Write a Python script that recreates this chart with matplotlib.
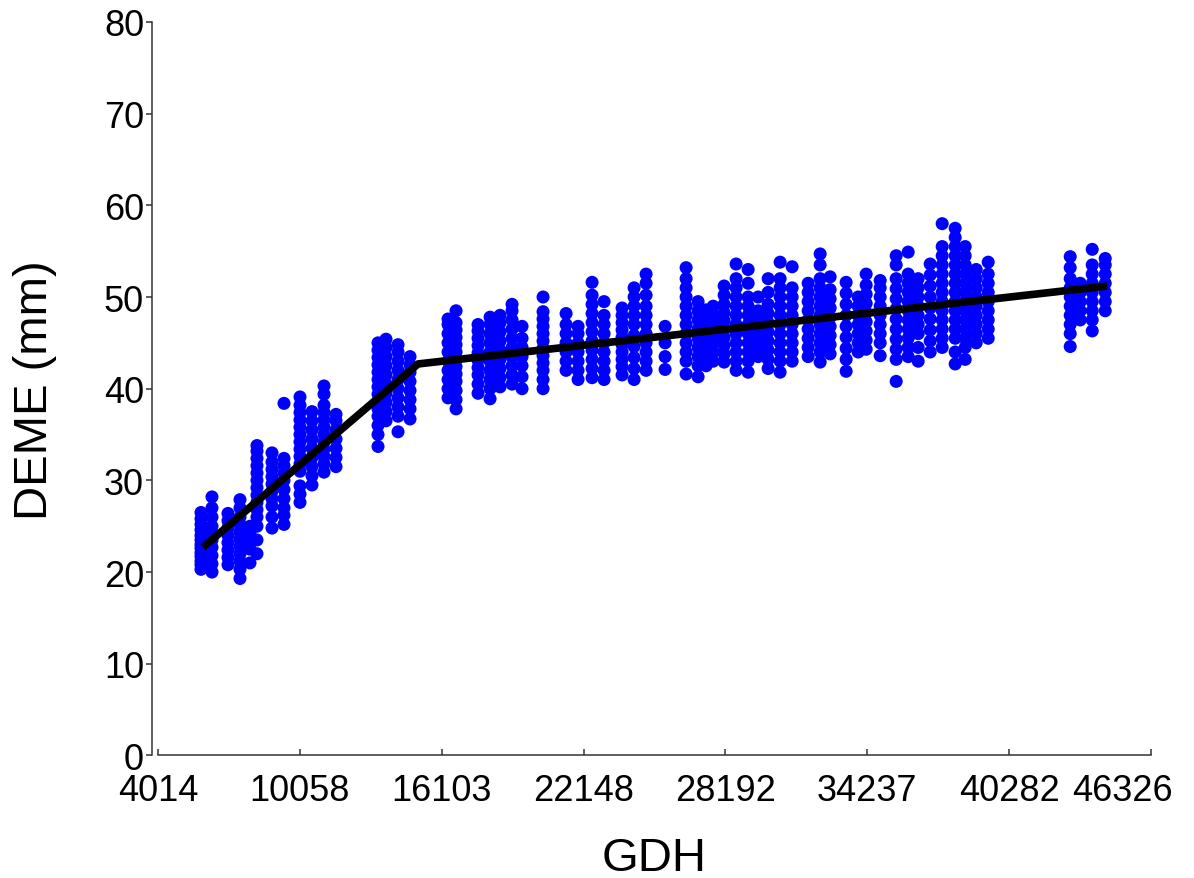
import matplotlib
matplotlib.use("Agg")
import matplotlib.pyplot as plt
from matplotlib.transforms import ScaledTranslation

plt.rcParams['font.family'] = ['Liberation Sans', 'DejaVu Sans']

# GDH position of each column of observations
gdh_cols = [5847, 6316, 6997, 7509, 7935, 8233, 8873, 9384, 10066, 10577,
            11089, 11600, 13390, 13731, 14243, 14754,
            16374, 16715, 17652, 18164, 18590, 19101, 19527, 20422, 21403, 21914,
            22511, 23022, 23789, 24301, 24812, 25622,
            26517, 27028, 27369, 27668, 28137, 28648, 29160, 29586, 30012, 30523,
            31035, 31717, 32228, 32654, 33336, 33848, 34189, 34786, 35468, 35979,
            36405, 36917, 37428, 37982, 38408, 38877, 39389,
            42883, 43310, 43821, 44375]

# DEME (mm) observations in each column
deme_cols = [
    [20.3, 20.8, 21.2, 21.7, 22.1, 22.6, 23.0, 23.5, 24.0, 24.6, 25.2, 25.8, 26.5],
    [20.0, 20.9, 21.8, 22.7, 23.5, 24.3, 25.0, 26.0, 27.0, 28.2],
    [20.8, 21.6, 22.4, 23.2, 24.0, 24.8, 25.6, 26.4],
    [19.3, 20.3, 21.2, 22.0, 22.8, 23.6, 24.4, 25.2, 26.0, 27.0, 27.9],
    [21.0, 22.5, 23.4, 24.2, 25.0],
    [22.0, 23.5, 25.0, 26.0, 26.8, 27.6, 28.4, 29.2, 30.0, 30.8, 31.6, 32.4, 33.2, 33.8],
    [24.8, 26.0, 27.2, 28.0, 28.8, 29.6, 30.4, 31.2, 32.0, 33.0],
    [25.2, 26.2, 27.0, 28.0, 29.0, 30.0, 30.8, 31.6, 32.4, 38.4],
    [27.6, 28.5, 29.4, 31.0, 31.8, 32.6, 33.4, 34.2, 35.0, 35.8, 36.6, 37.4, 38.2, 39.1],
    [29.5, 30.5, 31.5, 32.5, 33.5, 34.5, 35.5, 36.5, 37.5],
    [30.9, 31.8, 32.6, 33.4, 34.2, 35.0, 35.8, 36.6, 37.4, 38.2, 39.4, 40.3],
    [31.5, 32.5, 33.5, 34.5, 35.5, 36.5, 37.2],
    [33.7, 35.0, 36.0, 37.0, 37.8, 38.6, 39.4, 40.2, 41.0, 41.8, 42.6, 43.4, 44.2, 45.0],
    [36.5, 37.5, 38.5, 39.5, 40.5, 41.5, 42.5, 43.5, 44.5, 45.4],
    [35.3, 37.0, 38.0, 39.0, 40.0, 41.0, 42.0, 43.0, 44.0, 44.8],
    [36.7, 37.8, 38.8, 39.8, 40.8, 41.8, 42.6, 43.5],
    [39.0, 40.0, 41.0, 42.0, 43.0, 44.0, 45.0, 46.0, 47.0, 47.6],
    [37.8, 38.8, 39.8, 40.8, 41.6, 42.4, 43.2, 44.0, 44.8, 45.6, 46.4, 47.2, 48.5],
    [39.5, 40.5, 41.5, 42.3, 43.1, 43.9, 44.7, 45.5, 46.3, 47.0],
    [38.9, 40.0, 41.0, 42.0, 43.0, 44.0, 45.0, 46.0, 47.0, 47.8],
    [40.2, 41.2, 42.2, 43.2, 44.2, 45.2, 46.2, 47.2, 48.0],
    [40.5, 41.5, 42.5, 43.5, 44.5, 45.5, 46.5, 47.5, 48.5, 49.2],
    [40.0, 41.3, 42.5, 43.5, 44.5, 45.5, 46.8],
    [40.0, 41.0, 42.0, 42.8, 43.6, 44.4, 45.2, 46.0, 46.8, 47.6, 48.4, 50.0],
    [42.0, 43.0, 44.0, 45.0, 46.0, 47.0, 48.2],
    [41.0, 42.0, 43.0, 44.0, 45.0, 46.0, 46.8],
    [41.2, 42.2, 43.2, 44.2, 45.2, 46.2, 47.2, 48.2, 49.2, 50.2, 51.6],
    [41.0, 42.0, 43.0, 44.0, 45.0, 46.0, 47.0, 48.0, 49.5],
    [41.5, 42.4, 43.2, 44.0, 44.8, 45.6, 46.4, 47.2, 48.0, 48.8],
    [41.0, 42.2, 43.4, 44.6, 45.8, 47.0, 48.0, 49.0, 50.0, 51.0],
    [42.0, 43.0, 44.0, 45.0, 46.0, 47.0, 48.0, 49.0, 50.2, 51.5, 52.5],
    [42.1, 43.5, 45.0, 46.8],
    [41.6, 43.0, 44.0, 45.0, 46.0, 47.0, 48.0, 49.0, 50.0, 51.0, 52.0, 53.2],
    [41.3, 42.5, 43.5, 44.5, 45.5, 46.5, 47.5, 48.5, 49.5],
    [42.5, 43.5, 44.5, 45.5, 46.5, 47.5, 48.6],
    [43.0, 44.0, 45.0, 46.0, 47.0, 48.0, 49.0],
    [42.9, 43.8, 44.7, 45.6, 46.5, 47.4, 48.3, 49.2, 50.2, 51.2],
    [42.0, 43.0, 44.0, 45.0, 46.0, 47.0, 48.0, 49.0, 50.0, 51.0, 52.0, 53.6],
    [41.8, 43.0, 44.0, 45.0, 46.0, 47.0, 48.0, 49.0, 50.0, 51.5, 53.0],
    [43.5, 44.5, 45.5, 46.5, 47.5, 48.5, 50.0],
    [42.2, 43.2, 44.2, 45.2, 46.2, 47.2, 48.2, 49.2, 50.5, 52.0],
    [41.8, 43.0, 44.0, 45.0, 46.0, 47.0, 48.0, 49.0, 50.0, 51.0, 52.0, 53.8],
    [43.0, 44.0, 45.0, 46.0, 47.0, 48.0, 49.0, 50.0, 51.0, 53.3],
    [43.5, 44.5, 45.5, 46.5, 47.5, 48.5, 49.5, 50.5, 51.5],
    [42.9, 44.0, 45.0, 46.0, 47.0, 48.0, 49.0, 50.0, 51.0, 52.0, 53.5, 54.7],
    [43.8, 44.8, 45.8, 46.8, 47.8, 48.8, 49.8, 50.8, 52.2],
    [41.9, 43.2, 44.4, 45.6, 46.8, 48.0, 49.2, 50.4, 51.6],
    [44.0, 45.0, 46.0, 47.0, 48.0, 49.0, 50.0],
    [44.3, 45.3, 46.3, 47.3, 48.3, 49.3, 50.3, 51.3, 52.5],
    [43.6, 45.0, 46.0, 47.0, 48.0, 49.0, 50.0, 51.0, 51.8],
    [40.8, 43.2, 44.3, 45.4, 46.5, 47.6, 48.7, 49.8, 50.9, 52.0, 53.5, 54.5],
    [43.5, 44.5, 45.5, 46.5, 47.5, 48.5, 49.5, 50.5, 51.5, 52.5, 54.9],
    [43.0, 44.5, 46.0, 47.0, 48.0, 49.0, 50.0, 51.0, 52.0],
    [44.0, 45.2, 46.4, 47.6, 48.8, 50.0, 51.2, 52.4, 53.6],
    [44.5, 45.5, 46.5, 47.5, 48.5, 49.5, 50.5, 51.5, 52.5, 53.5, 54.5, 55.5, 58.0],
    [42.7, 44.0, 45.5, 46.5, 47.5, 48.5, 49.5, 50.5, 51.5, 52.5, 53.5, 54.5, 55.5, 56.5, 57.5],
    [43.2, 44.5, 45.5, 46.5, 47.5, 48.5, 49.5, 50.5, 51.5, 52.5, 53.5, 54.5, 55.5],
    [45.0, 46.0, 47.0, 48.0, 49.0, 50.0, 51.0, 52.0, 53.0],
    [45.5, 46.5, 47.5, 48.5, 49.5, 50.5, 51.5, 52.5, 53.8],
    [44.6, 46.0, 47.0, 48.0, 49.0, 50.0, 51.0, 52.0, 53.2, 54.4],
    [47.5, 48.5, 49.5, 50.5, 51.5],
    [46.3, 47.5, 48.5, 49.5, 50.5, 51.5, 52.5, 53.5, 55.2],
    [48.5, 49.5, 50.5, 51.5, 52.5, 53.5, 54.2],
]

# piecewise linear fit
fit_gdh = [5932, 15095, 44460]
fit_deme = [22.7, 42.7, 51.2]

x_ticks = [4014, 10058, 16103, 22148, 28192, 34237, 40282, 46326]
x_ticklabels = ["4014", "10058", "16103", "22148", "28192", "34237", "40282", "46326"]
y_ticks = [0, 10, 20, 30, 40, 50, 60, 70, 80]

xs, ys = [], []
for g, col in zip(gdh_cols, deme_cols):
    for v in col:
        xs.append(g)
        ys.append(v)

fig = plt.figure(figsize=(11.94, 8.79), dpi=100)
ax = fig.add_axes([0.1323, 0.1394, 0.8317, 0.8345])

ax.scatter(xs, ys, s=88, color="#0000FF", edgecolors="none", zorder=2)
ax.plot(fit_gdh, fit_deme, color="black", lw=5.5, solid_capstyle="butt", zorder=3)

ax.set_xlim(4014, 46326)
ax.set_ylim(0, 80)
ax.set_xticks(x_ticks)
ax.set_xticklabels(x_ticklabels)
ax.set_yticks(y_ticks)

for s in ["top", "right"]:
    ax.spines[s].set_visible(False)
ax.spines["left"].set_position(("outward", 4))
for s in ["left", "bottom"]:
    ax.spines[s].set_color("#333333")
    ax.spines[s].set_linewidth(1.1)

ax.tick_params(axis="y", direction="out", length=4.5, width=1.1, color="#333333",
               labelsize=26, pad=1.5)
ax.tick_params(axis="x", direction="in", length=4.5, width=1.1, color="#333333",
               labelsize=26, pad=12.5)

# last x tick label is nudged left so it stays inside the figure
last = ax.get_xticklabels()[-1]
last.set_transform(last.get_transform() + ScaledTranslation(-0.29, 0, fig.dpi_scale_trans))

ax.set_xlabel("GDH", fontsize=34, labelpad=20)
ax.set_ylabel("DEME (mm)", fontsize=34, labelpad=34)

fig.savefig("out.png", dpi=100)
